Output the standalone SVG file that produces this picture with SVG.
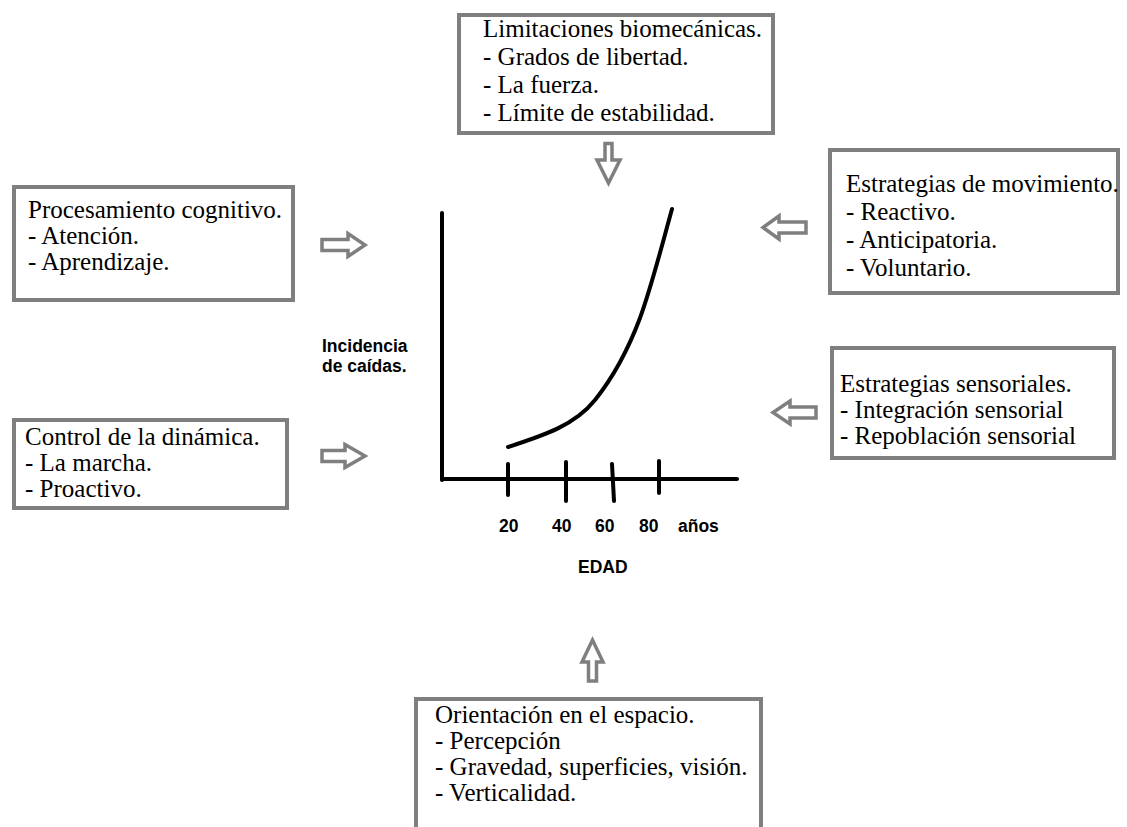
<svg xmlns="http://www.w3.org/2000/svg" width="1127" height="827" viewBox="0 0 1127 827">
<style>
.box{fill:#fff;stroke:#7f7f7f;stroke-width:4}
.t{font-family:"Liberation Serif","Times New Roman",serif;font-size:25px;fill:#000}
.b{font-family:"Liberation Sans",Arial,sans-serif;font-size:17.5px;font-weight:bold;fill:#000}
.arr{fill:#fff;stroke:#7f7f7f;stroke-width:3.5;stroke-linejoin:miter}
.ax{fill:none;stroke:#000;stroke-width:4;stroke-linecap:round}
</style>
<rect width="1127" height="827" fill="#fff"/>
<g id="node-limitaciones">
<rect class="box" x="459" y="15" width="314" height="118"/>
<text class="t" x="483" y="37">Limitaciones biomecánicas.</text>
<text class="t" x="483" y="65">- Grados de libertad.</text>
<text class="t" x="483" y="93">- La fuerza.</text>
<text class="t" x="483" y="121">- Límite de estabilidad.</text>
</g>
<g id="node-procesamiento">
<rect class="box" x="14" y="187" width="279" height="113"/>
<text class="t" x="28" y="218">Procesamiento cognitivo.</text>
<text class="t" x="28" y="244">- Atención.</text>
<text class="t" x="28" y="270">- Aprendizaje.</text>
</g>
<g id="node-movimiento">
<rect class="box" x="830" y="150" width="288" height="143"/>
<text class="t" x="846" y="192">Estrategias de movimiento.</text>
<text class="t" x="846" y="220">- Reactivo.</text>
<text class="t" x="846" y="248">- Anticipatoria.</text>
<text class="t" x="846" y="276">- Voluntario.</text>
</g>
<g id="node-control">
<rect class="box" x="14" y="420" width="273" height="88"/>
<text class="t" x="25" y="445">Control de la dinámica.</text>
<text class="t" x="25" y="471">- La marcha.</text>
<text class="t" x="25" y="497">- Proactivo.</text>
</g>
<g id="node-sensoriales">
<rect class="box" x="832" y="348" width="282" height="110"/>
<text class="t" x="840" y="392">Estrategias sensoriales.</text>
<text class="t" x="840" y="418">- Integración sensorial</text>
<text class="t" x="840" y="444">- Repoblación sensorial</text>
</g>
<g id="node-orientacion">
<rect class="box" x="416" y="699" width="345" height="140"/>
<text class="t" x="435" y="723">Orientación en el espacio.</text>
<text class="t" x="435" y="749">- Percepción</text>
<text class="t" x="435" y="775">- Gravedad, superficies, visión.</text>
<text class="t" x="435" y="801">- Verticalidad.</text>
</g>
<g id="graph">
<line class="ax" x1="442" y1="213" x2="442" y2="480"/>
<line class="ax" x1="442" y1="479" x2="737" y2="479"/>
<line class="ax" x1="508" y1="464" x2="508" y2="495"/>
<line class="ax" x1="566" y1="462" x2="566" y2="501"/>
<line class="ax" x1="612" y1="464" x2="614" y2="501"/>
<line class="ax" x1="659" y1="461" x2="659" y2="493"/>
<path class="ax" d="M508,447 C545,435 575,425 595,400 C615,375 628,350 640,318 C652,285 662,245 672,209"/>
<text class="b" x="322" y="352">Incidencia</text>
<text class="b" x="322" y="372">de caídas.</text>
<text class="b" x="499" y="532">20</text>
<text class="b" x="552" y="532">40</text>
<text class="b" x="595" y="532">60</text>
<text class="b" x="639" y="532">80</text>
<text class="b" x="678" y="532">años</text>
<text class="b" x="578" y="573">EDAD</text>
</g>
<g id="connectors">
<path class="arr" d="M322,239.5 H348 V233.5 L365,245 L348,256.5 V250.5 H322 Z"/>
<path class="arr" d="M322,450.5 H345 V444.5 L365,456 L345,467.5 V461.5 H322 Z"/>
<path class="arr" d="M806,222 H779 V216 L763,227.5 L779,239 V233 H806 Z"/>
<path class="arr" d="M816,407 H790 V401 L773,412.5 L790,424 V418 H816 Z"/>
<path class="arr" d="M605,143.5 V160 H597 L608.5,183 L620,160 H612 V143.5 Z"/>
<path class="arr" d="M588.5,681 V662 H582 L592.5,640 L603,662 H596.5 V681 Z"/>
</g>
</svg>
